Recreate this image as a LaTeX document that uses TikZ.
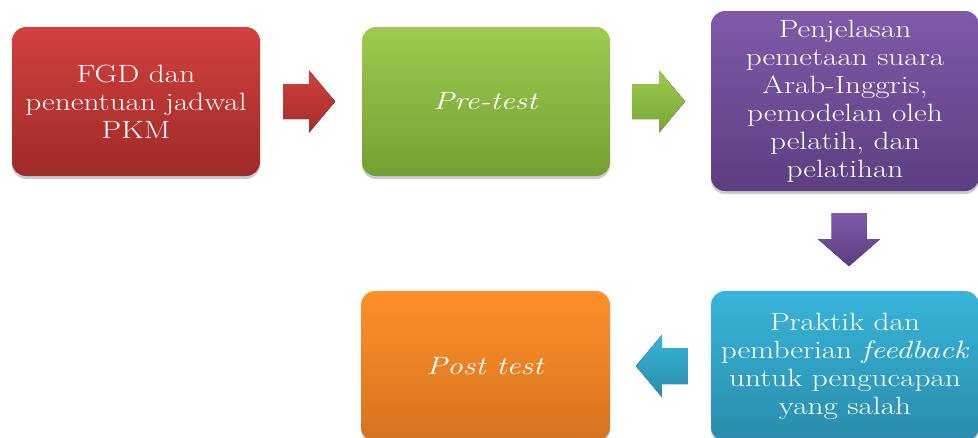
\documentclass[tikz,border=0pt]{standalone}
\usepackage{fontspec}
\setmainfont{Latin Modern Roman}[FakeStretch=1.25]
\usetikzlibrary{calc,shadows}
\definecolor{redT}{HTML}{D2403C}\definecolor{redB}{HTML}{9E2B29}
\definecolor{grnT}{HTML}{9ECB4F}\definecolor{grnB}{HTML}{74A033}
\definecolor{purT}{HTML}{7F5AA9}\definecolor{purB}{HTML}{5D3E80}
\definecolor{cyaT}{HTML}{37B5D9}\definecolor{cyaB}{HTML}{2A8CAB}
\definecolor{oraT}{HTML}{FE902A}\definecolor{oraB}{HTML}{D6731F}
\tikzset{
  box/.style={rounded corners=14pt, inner sep=0pt, text=white, align=center,
    font=\fontsize{25}{28}\selectfont,
    drop shadow={shadow xshift=0pt, shadow yshift=-3pt, opacity=0.2, fill=black}},
  blockarrow/.style={draw=none}
}
\begin{document}
\begin{tikzpicture}[x=1pt,y=-1pt]
\useasboundingbox (0,0) rectangle (978,437);
\node[box, top color=redT, bottom color=redB, minimum width=248pt, minimum height=149pt] (red) at (136,101.5)
  {FGD dan\\penentuan jadwal\\PKM};
\node[box, top color=grnT, bottom color=grnB, minimum width=248pt, minimum height=149pt] (grn) at (486,101.5)
  {\textit{Pre-test}};
\node[box, top color=purT, bottom color=purB, minimum width=268pt, minimum height=180pt] (pur) at (845,101)
  {Penjelasan\\pemetaan suara\\Arab-Inggris,\\pemodelan oleh\\pelatih, dan\\pelatihan};
\node[box, top color=cyaT, bottom color=cyaB, minimum width=268pt, minimum height=150pt] (cya) at (845,366)
  {Praktik dan\\pemberian \textit{feedback}\\untuk pengucapan\\yang salah};
\node[box, top color=oraT, bottom color=oraB, minimum width=249pt, minimum height=150pt] (ora) at (485.5,366)
  {\textit{Post test}};
% connectors as block arrows
\coordinate (a1) at ($(red.east)+(23,0)$);
\fill[blockarrow, shift={(a1)}, top color=redT, bottom color=redB!90!redT]
  (0,-17.5) -- (26,-17.5) -- (26,-31) -- (52,0) -- (26,31) -- (26,17.5) -- (0,17.5) -- cycle;
\coordinate (a2) at ($(grn.east)+(22,0)$);
\fill[blockarrow, shift={(a2)}, top color=grnT, bottom color=grnB!90!grnT]
  (0,-17.5) -- (27,-17.5) -- (27,-31) -- (53,0) -- (27,31) -- (27,17.5) -- (0,17.5) -- cycle;
\coordinate (a3) at ($(pur.south)+(4,22)$);
\fill[blockarrow, shift={(a3)}, top color=purT, bottom color=purB]
  (-17.5,0) -- (17.5,0) -- (17.5,26) -- (31,26) -- (0,53) -- (-31,26) -- (-17.5,26) -- cycle;
\coordinate (a4) at ($(cya.west)+(-23,0)$);
\fill[blockarrow, shift={(a4)}, top color=cyaT, bottom color=cyaB]
  (0,-18) -- (-26,-18) -- (-26,-31) -- (-52,0) -- (-26,31) -- (-26,18) -- (0,18) -- cycle;
\end{tikzpicture}
\end{document}
